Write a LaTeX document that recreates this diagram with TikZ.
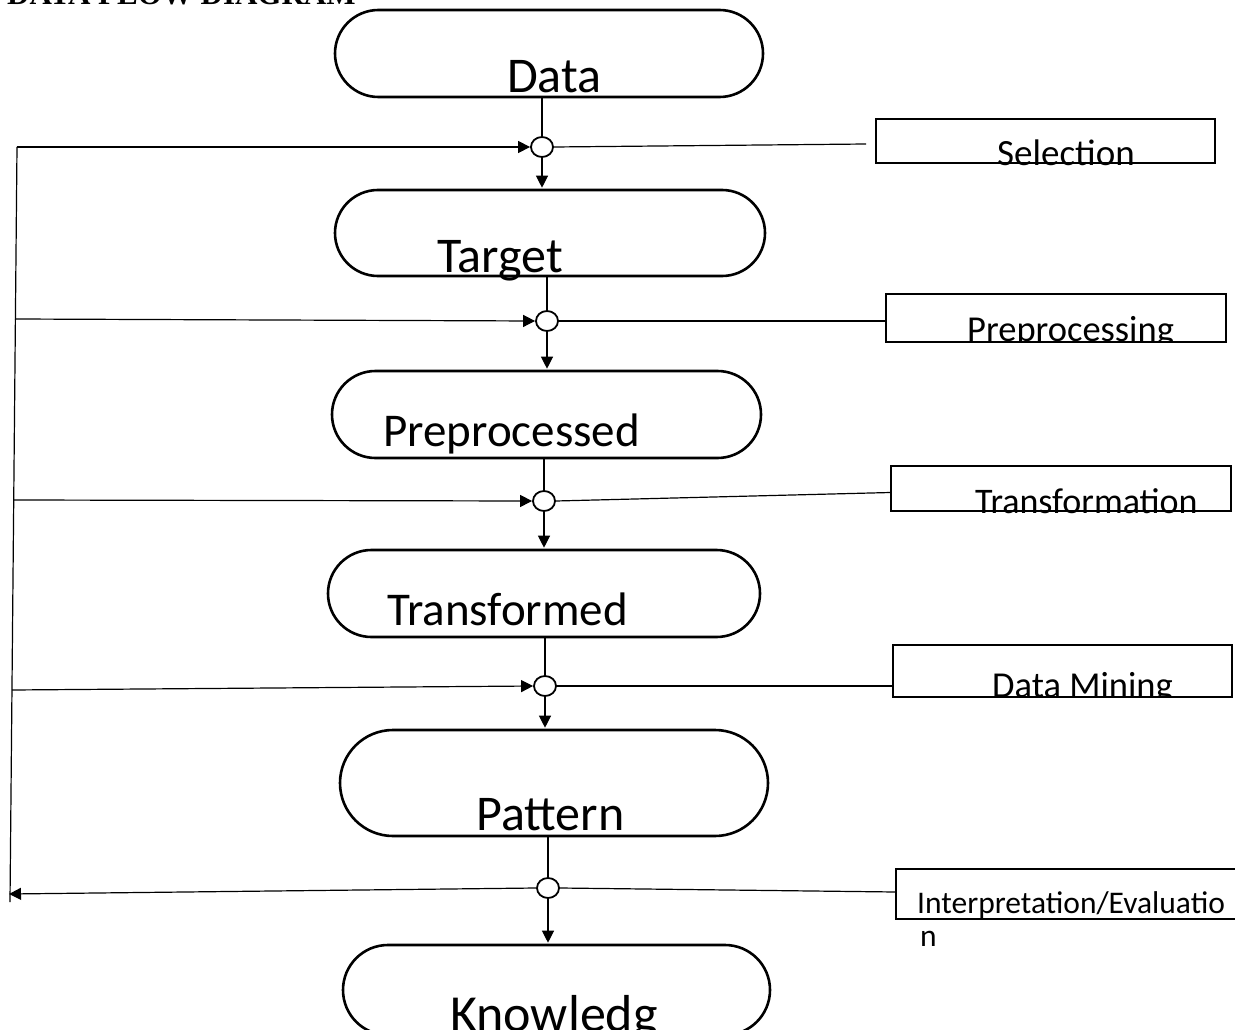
\documentclass[tikz,border=0pt]{standalone}
\usepackage{fontspec}
\setmainfont{Liberation Serif}
\newfontfamily\calfont{Carlito}
\usetikzlibrary{arrows.meta,shapes.misc,shapes.geometric}
\begin{document}
\begin{tikzpicture}[x=1pt,y=-1pt,
  term/.style={draw,line width=2.6pt,rounded rectangle,inner sep=0pt},
  box/.style={draw,line width=1.2pt,inner sep=0pt},
  circ/.style={draw,ellipse,line width=1.8pt,minimum width=22pt,minimum height=20pt,inner sep=0pt},
  conn/.style={line width=1.2pt},
  arr/.style={conn,-{Triangle[length=12pt,width=12pt]}},
  big/.style={font=\calfont\fontsize{#1}{#1}\selectfont,anchor=base west,inner sep=0pt},
  big/.default=48,
  lab/.style={font=\calfont\fontsize{#1}{#1}\selectfont,anchor=base west,inner sep=0pt},
  lab/.default=36,
]
\useasboundingbox (0,0) rectangle (1235,1030);

% title
\node[font=\bfseries\fontsize{31}{31}\selectfont,anchor=base west,inner sep=0pt] (title) at (7,5) {DATA FLOW DIAGRAM};

% terminals
\node[term,minimum width=428pt,minimum height=87pt] (data) at (549,53.5) {};
\node[term,minimum width=430pt,minimum height=86pt] (target) at (550,233) {};
\node[term,minimum width=429pt,minimum height=87pt] (prep) at (546.5,414.5) {};
\node[term,minimum width=432pt,minimum height=87pt] (trans) at (544,593.5) {};
\node[term,minimum width=428pt,minimum height=106pt] (patt) at (554,783) {};
\node[term,minimum width=427pt,minimum height=90pt] (know) at (556.5,990) {};

\node[big=50] (tdata) at (507,93) {Data};
\node[big=50] (ttarget) at (437,272) {Target};
\node[big=47] (tprep) at (383,446) {Preprocessed};
\node[big=47] (ttrans) at (387,625) {Transformed};
\node[big=50] (tpatt) at (476,830) {Pattern};
\node[big=52] (tknow) at (450,1031) {Knowledg};

% junction circles
\node[circ] (c1) at (542,147) {};
\node[circ] (c2) at (547,321) {};
\node[circ] (c3) at (544,501) {};
\node[circ] (c4) at (545,686) {};
\node[circ] (c5) at (548,888) {};

% side boxes
\node[box,minimum width=339pt,minimum height=44pt] (selbox) at (1045.5,141) {};
\node[box,minimum width=340pt,minimum height=48pt] (ppbox) at (1056,318) {};
\node[box,minimum width=340pt,minimum height=45pt] (trbox) at (1061,488.5) {};
\node[box,minimum width=339pt,minimum height=52pt] (dmbox) at (1062.5,671) {};
\node[box,minimum width=420pt,minimum height=50pt] (ibox) at (1106,894) {};

\node[lab=37] (tsel) at (997,166) {Selection};
\begin{scope}
  \clip (886,294) rectangle (1226,342);
  \node[lab=36.5] (tpp) at (967,341) {Preprocessing};
\end{scope}
\node[lab=36] (ttr) at (975,513) {Transformation};
\begin{scope}
  \clip (893,645) rectangle (1232,697);
  \node[lab=36.5] (tdm) at (992,697) {Data Mining};
\end{scope}
\node[lab=31.5] (tint) at (917,913) {Interpretation/Evaluatio};
\node[lab=31.5] (tint2) at (920,946) {n};

% main vertical flow
\draw[conn] (data.south -| c1) -- (c1.north);
\draw[arr] (c1.south) -- ([yshift=1pt]target.north -| c1);
\draw[conn] (target.south -| c2) -- (c2.north);
\draw[arr] (c2.south) -- ([yshift=1pt]prep.north -| c2);
\draw[conn] (prep.south -| c3) -- (c3.north);
\draw[arr] (c3.south) -- ([yshift=1pt]trans.north -| c3);
\draw[conn] (trans.south -| c4) -- (c4.north);
\draw[arr] (c4.south) -- ([yshift=1pt]patt.north -| c4);
\draw[conn] (patt.south -| c5) -- (c5.north);
\draw[arr] (c5.south) -- ([yshift=1pt]know.north -| c5);

% right connectors
\coordinate (r1) at (866,144);
\draw[conn] (c1.east) -- (r1);
\draw[conn] (c2.east) -- (c2.east -| ppbox.west);
\draw[conn] (c3.east) -- ([yshift=-4pt]trbox.west);
\draw[conn] (c4.east) -- (c4.east -| dmbox.west);
\draw[conn] (c5.east) -- ([yshift=2pt]ibox.west);

% left feedback loop
\coordinate (ltop) at (17,147);
\coordinate (lbot) at (10,902);
\coordinate (l2) at (15,319);
\coordinate (l3) at (14,500);
\coordinate (l4) at (12,690);
\coordinate (lend) at (9,894);
\draw[conn] (ltop) -- (lbot);
\draw[arr] (ltop) -- (c1.west);
\draw[arr] (l2) -- (c2.west);
\draw[arr] (l3) -- (c3.west);
\draw[arr] (l4) -- (c4.west);
\draw[arr] (c5.west) -- (lend);
\end{tikzpicture}
\end{document}
